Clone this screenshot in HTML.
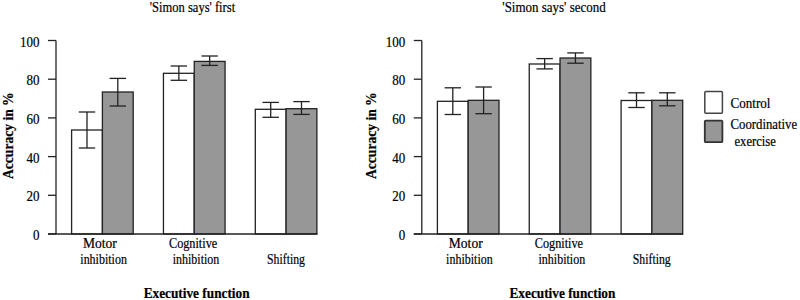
<!DOCTYPE html>
<html><head><meta charset="utf-8"><style>
html,body{margin:0;padding:0;background:#fff;width:800px;height:300px;overflow:hidden}
svg{display:block}
text{font-family:"Liberation Serif",serif;fill:#000;font-size:14px;stroke:#000;stroke-width:0.2px}
.xb{font-weight:bold}
.ax{stroke:#222;stroke-width:1.3}
.bar{stroke:#222;stroke-width:1.3}
.er{stroke:#222;stroke-width:1.3}
</style></head><body>
<svg width="800" height="300" viewBox="0 0 800 300">
<text x="149.80" y="11.8" class="lb" textLength="85.35" lengthAdjust="spacingAndGlyphs">'Simon says' first</text>
<line x1="56" y1="40.5" x2="56" y2="234.0" class="ax"/>
<line x1="48" y1="234.0" x2="56" y2="234.0" class="ax"/>
<text x="39.4" y="240.0" class="lb" text-anchor="end" textLength="6.5" lengthAdjust="spacingAndGlyphs">0</text>
<line x1="48" y1="195.3" x2="56" y2="195.3" class="ax"/>
<text x="39.4" y="201.3" class="lb" text-anchor="end" textLength="13.0" lengthAdjust="spacingAndGlyphs">20</text>
<line x1="48" y1="156.6" x2="56" y2="156.6" class="ax"/>
<text x="39.4" y="162.6" class="lb" text-anchor="end" textLength="13.0" lengthAdjust="spacingAndGlyphs">40</text>
<line x1="48" y1="117.89999999999999" x2="56" y2="117.89999999999999" class="ax"/>
<text x="39.4" y="123.89999999999999" class="lb" text-anchor="end" textLength="13.0" lengthAdjust="spacingAndGlyphs">60</text>
<line x1="48" y1="79.19999999999999" x2="56" y2="79.19999999999999" class="ax"/>
<text x="39.4" y="85.19999999999999" class="lb" text-anchor="end" textLength="13.0" lengthAdjust="spacingAndGlyphs">80</text>
<line x1="48" y1="40.5" x2="56" y2="40.5" class="ax"/>
<text x="39.4" y="46.5" class="lb" text-anchor="end" textLength="19.5" lengthAdjust="spacingAndGlyphs">100</text>
<rect x="71.6" y="130.0" width="30.8" height="104.0" fill="#fff" class="bar"/>
<line x1="87.0" y1="112.0" x2="87.0" y2="148.0" class="er"/>
<line x1="78.8" y1="112.0" x2="95.2" y2="112.0" class="er"/>
<line x1="78.8" y1="148.0" x2="95.2" y2="148.0" class="er"/>
<rect x="102.39999999999999" y="92.0" width="30.8" height="142.0" fill="#979797" class="bar"/>
<line x1="117.8" y1="78.4" x2="117.8" y2="106.00000000000001" class="er"/>
<line x1="109.6" y1="78.4" x2="126.0" y2="78.4" class="er"/>
<line x1="109.6" y1="106.00000000000001" x2="126.0" y2="106.00000000000001" class="er"/>
<rect x="163.45" y="73.30000000000001" width="30.8" height="160.7" fill="#fff" class="bar"/>
<line x1="178.85" y1="66.0" x2="178.85" y2="80.30000000000001" class="er"/>
<line x1="170.65" y1="66.0" x2="187.04999999999998" y2="66.0" class="er"/>
<line x1="170.65" y1="80.30000000000001" x2="187.04999999999998" y2="80.30000000000001" class="er"/>
<rect x="194.25" y="61.400000000000006" width="30.8" height="172.6" fill="#979797" class="bar"/>
<line x1="209.65" y1="56.0" x2="209.65" y2="65.4" class="er"/>
<line x1="201.45000000000002" y1="56.0" x2="217.85" y2="56.0" class="er"/>
<line x1="201.45000000000002" y1="65.4" x2="217.85" y2="65.4" class="er"/>
<rect x="255.29999999999998" y="109.3" width="30.8" height="124.7" fill="#fff" class="bar"/>
<line x1="270.7" y1="102.4" x2="270.7" y2="117.3" class="er"/>
<line x1="262.5" y1="102.4" x2="278.9" y2="102.4" class="er"/>
<line x1="262.5" y1="117.3" x2="278.9" y2="117.3" class="er"/>
<rect x="286.09999999999997" y="108.7" width="30.8" height="125.3" fill="#979797" class="bar"/>
<line x1="301.49999999999994" y1="101.6" x2="301.49999999999994" y2="114.4" class="er"/>
<line x1="293.29999999999995" y1="101.6" x2="309.69999999999993" y2="101.6" class="er"/>
<line x1="293.29999999999995" y1="114.4" x2="309.69999999999993" y2="114.4" class="er"/>
<line x1="48" y1="234.0" x2="317.29999999999995" y2="234.0" class="ax"/>
<text x="83.00" y="247.7" class="lb" textLength="33.87" lengthAdjust="spacingAndGlyphs">Motor</text>
<text x="80.30" y="263.7" class="lb" textLength="46.64" lengthAdjust="spacingAndGlyphs">inhibition</text>
<text x="169.00" y="247.7" class="lb" textLength="48.2" lengthAdjust="spacingAndGlyphs">Cognitive</text>
<text x="172.70" y="263.7" class="lb" textLength="46.64" lengthAdjust="spacingAndGlyphs">inhibition</text>
<text x="267.00" y="263.6" class="lb" textLength="37.95" lengthAdjust="spacingAndGlyphs">Shifting</text>
<text x="143.70" y="297.7" class="xb" textLength="105.88" lengthAdjust="spacingAndGlyphs">Executive function</text>
<text transform="translate(13,179) rotate(-90)" class="xb" textLength="86.69" lengthAdjust="spacingAndGlyphs">Accuracy in %</text>
<text x="502.30" y="11.8" class="lb" textLength="103.36" lengthAdjust="spacingAndGlyphs">'Simon says' second</text>
<line x1="421.8" y1="40.5" x2="421.8" y2="234.0" class="ax"/>
<line x1="413.8" y1="234.0" x2="421.8" y2="234.0" class="ax"/>
<text x="405.2" y="240.0" class="lb" text-anchor="end" textLength="6.5" lengthAdjust="spacingAndGlyphs">0</text>
<line x1="413.8" y1="195.3" x2="421.8" y2="195.3" class="ax"/>
<text x="405.2" y="201.3" class="lb" text-anchor="end" textLength="13.0" lengthAdjust="spacingAndGlyphs">20</text>
<line x1="413.8" y1="156.6" x2="421.8" y2="156.6" class="ax"/>
<text x="405.2" y="162.6" class="lb" text-anchor="end" textLength="13.0" lengthAdjust="spacingAndGlyphs">40</text>
<line x1="413.8" y1="117.89999999999999" x2="421.8" y2="117.89999999999999" class="ax"/>
<text x="405.2" y="123.89999999999999" class="lb" text-anchor="end" textLength="13.0" lengthAdjust="spacingAndGlyphs">60</text>
<line x1="413.8" y1="79.19999999999999" x2="421.8" y2="79.19999999999999" class="ax"/>
<text x="405.2" y="85.19999999999999" class="lb" text-anchor="end" textLength="13.0" lengthAdjust="spacingAndGlyphs">80</text>
<line x1="413.8" y1="40.5" x2="421.8" y2="40.5" class="ax"/>
<text x="405.2" y="46.5" class="lb" text-anchor="end" textLength="19.5" lengthAdjust="spacingAndGlyphs">100</text>
<rect x="437.4" y="101.30000000000001" width="30.8" height="132.7" fill="#fff" class="bar"/>
<line x1="452.79999999999995" y1="87.80000000000001" x2="452.79999999999995" y2="114.5" class="er"/>
<line x1="444.59999999999997" y1="87.80000000000001" x2="460.99999999999994" y2="87.80000000000001" class="er"/>
<line x1="444.59999999999997" y1="114.5" x2="460.99999999999994" y2="114.5" class="er"/>
<rect x="468.2" y="100.30000000000001" width="30.8" height="133.7" fill="#979797" class="bar"/>
<line x1="483.59999999999997" y1="87.0" x2="483.59999999999997" y2="113.7" class="er"/>
<line x1="475.4" y1="87.0" x2="491.79999999999995" y2="87.0" class="er"/>
<line x1="475.4" y1="113.7" x2="491.79999999999995" y2="113.7" class="er"/>
<rect x="529.25" y="64.0" width="30.8" height="170.0" fill="#fff" class="bar"/>
<line x1="544.65" y1="58.599999999999994" x2="544.65" y2="68.9" class="er"/>
<line x1="536.4499999999999" y1="58.599999999999994" x2="552.85" y2="58.599999999999994" class="er"/>
<line x1="536.4499999999999" y1="68.9" x2="552.85" y2="68.9" class="er"/>
<rect x="560.05" y="58.0" width="30.8" height="176.0" fill="#979797" class="bar"/>
<line x1="575.4499999999999" y1="52.900000000000006" x2="575.4499999999999" y2="63.19999999999999" class="er"/>
<line x1="567.2499999999999" y1="52.900000000000006" x2="583.65" y2="52.900000000000006" class="er"/>
<line x1="567.2499999999999" y1="63.19999999999999" x2="583.65" y2="63.19999999999999" class="er"/>
<rect x="621.0999999999999" y="100.5" width="30.8" height="133.5" fill="#fff" class="bar"/>
<line x1="636.4999999999999" y1="92.80000000000001" x2="636.4999999999999" y2="107.5" class="er"/>
<line x1="628.2999999999998" y1="92.80000000000001" x2="644.6999999999999" y2="92.80000000000001" class="er"/>
<line x1="628.2999999999998" y1="107.5" x2="644.6999999999999" y2="107.5" class="er"/>
<rect x="651.8999999999999" y="100.30000000000001" width="30.8" height="133.7" fill="#979797" class="bar"/>
<line x1="667.2999999999998" y1="92.80000000000001" x2="667.2999999999998" y2="105.80000000000001" class="er"/>
<line x1="659.0999999999998" y1="92.80000000000001" x2="675.4999999999999" y2="92.80000000000001" class="er"/>
<line x1="659.0999999999998" y1="105.80000000000001" x2="675.4999999999999" y2="105.80000000000001" class="er"/>
<line x1="413.8" y1="234.0" x2="683.0999999999999" y2="234.0" class="ax"/>
<text x="448.80" y="247.7" class="lb" textLength="33.87" lengthAdjust="spacingAndGlyphs">Motor</text>
<text x="446.10" y="263.7" class="lb" textLength="46.64" lengthAdjust="spacingAndGlyphs">inhibition</text>
<text x="534.80" y="247.7" class="lb" textLength="48.2" lengthAdjust="spacingAndGlyphs">Cognitive</text>
<text x="538.50" y="263.7" class="lb" textLength="46.64" lengthAdjust="spacingAndGlyphs">inhibition</text>
<text x="632.80" y="263.6" class="lb" textLength="37.95" lengthAdjust="spacingAndGlyphs">Shifting</text>
<text x="509.50" y="297.7" class="xb" textLength="105.88" lengthAdjust="spacingAndGlyphs">Executive function</text>
<text transform="translate(376.40000000000003,179) rotate(-90)" class="xb" textLength="86.69" lengthAdjust="spacingAndGlyphs">Accuracy in %</text>

<rect x="704.8" y="91.6" width="17.6" height="21.6" rx="1" fill="#fff" stroke="#444" stroke-width="1.5"/>
<rect x="704.8" y="120.6" width="17.6" height="21.6" rx="1" fill="#979797" stroke="#333" stroke-width="1.8"/>
<text x="730.50" y="107.7" class="lb" textLength="39.93" lengthAdjust="spacingAndGlyphs">Control</text>
<text x="730.50" y="129" class="lb" textLength="66.6" lengthAdjust="spacingAndGlyphs">Coordinative</text>
<text x="734.50" y="145.7" class="lb" textLength="41.37" lengthAdjust="spacingAndGlyphs">exercise</text>

</svg>
</body></html>
